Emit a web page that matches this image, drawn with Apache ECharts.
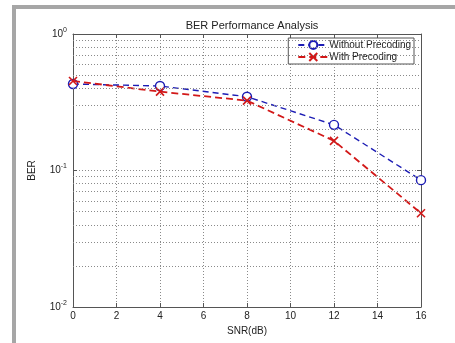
<!DOCTYPE html>
<html>
<head>
<meta charset="utf-8">
<script src="https://cdn.jsdelivr.net/npm/echarts@6/dist/echarts.min.js"></script>
<style>html,body{margin:0;padding:0;background:#fff}#c{width:455px;height:343px}</style>
</head>
<body>
<div id="c"></div>
<script>
var snr = [0, 4, 8, 12, 16];
var berWithout = [0.43, 0.416, 0.347, 0.216, 0.085];
var berWith = [0.453, 0.378, 0.325, 0.165, 0.0486];
var xTicks = [0, 2, 4, 6, 8, 10, 12, 14, 16];
var yMinorGrid = [0.02,0.03,0.04,0.05,0.06,0.07,0.08,0.09,0.2,0.3,0.4,0.5,0.6,0.7,0.8,0.9];
var yTickExp = {1: '0', 0.1: '-1', 0.01: '-2'};

var chart = echarts.init(document.getElementById('c'), null, {renderer: 'canvas'});
var font = 'Liberation Sans, Arial, sans-serif';
var axisColor = '#555';
var gridLine = {show: true, lineStyle: {type: [1, 2], color: '#8a8a8a', width: 1}};

function pair(arrX, arrY) { return arrX.map(function (x, i) { return [x, arrY[i]]; }); }

var xSym = 'path://M0,0L10,10M10,0L0,10';

chart.setOption({
  animation: false,
  backgroundColor: '#fff',
  textStyle: {fontFamily: font},
  graphic: [
    {type: 'rect', shape: {x: 12, y: 5, width: 443, height: 4}, style: {fill: '#a6a6a6'}, silent: true},
    {type: 'rect', shape: {x: 12, y: 5, width: 4, height: 338}, style: {fill: '#a6a6a6'}, silent: true}
  ],
  title: {
    text: 'BER Performance Analysis',
    left: 247, top: 15, textAlign: 'center',
    textStyle: {fontSize: 11, fontWeight: 'normal', color: '#222', fontFamily: font}
  },
  legend: {
    right: 41, top: 38,
    orient: 'vertical',
    backgroundColor: '#fff',
    borderColor: '#555', borderWidth: 1,
    padding: [2, 3, 2, 9],
    itemGap: 2,
    itemWidth: 30, itemHeight: 10,
    textStyle: {fontSize: 10, color: '#222', fontFamily: font, padding: [0, 0, 0, -4]},
    data: ['Without Precoding', 'With Precoding']
  },
  grid: {left: 73, right: 34, top: 34, bottom: 36},
  xAxis: [{
    type: 'value', min: 0, max: 16, interval: 2,
    name: 'SNR(dB)', nameLocation: 'middle', nameGap: 18,
    nameTextStyle: {fontSize: 10, color: '#222'},
    axisLine: {show: true, onZero: false, lineStyle: {color: axisColor}},
    axisTick: {show: true, inside: true, length: 4, lineStyle: {color: axisColor}},
    axisLabel: {fontSize: 10, color: '#222', margin: 4,
      customValues: xTicks},
    splitLine: gridLine
  }, {
    type: 'value', min: 0, max: 16, interval: 2, position: 'top',
    axisLine: {show: true, onZero: false, lineStyle: {color: axisColor}},
    axisTick: {show: true, inside: true, length: 4, lineStyle: {color: axisColor}},
    axisLabel: {show: false}, splitLine: {show: false}
  }],
  yAxis: [{
    type: 'log', min: 0.01, max: 1, logBase: 10,
    name: 'BER', nameLocation: 'middle', nameGap: 36,
    nameTextStyle: {fontSize: 10, color: '#222'},
    axisLine: {show: true, onZero: false, lineStyle: {color: axisColor}},
    axisTick: {show: true, inside: true, length: 4, lineStyle: {color: axisColor}},
    axisLabel: {
      margin: 6, color: '#222',
      formatter: function (v) {
        var k = Math.abs(v - 1) < 1e-9 ? 1 : (Math.abs(v - 0.1) < 1e-9 ? 0.1 : 0.01);
        return '{b|10}{s|' + yTickExp[k] + '}';
      },
      rich: {
        b: {fontSize: 10, color: '#222', fontFamily: font},
        s: {fontSize: 7, color: '#222', fontFamily: font, padding: [0, 0, 8, 0]}
      }
    },
    splitLine: gridLine
  }, {
    type: 'log', min: 0.01, max: 1, logBase: 10, position: 'right',
    axisLine: {show: true, onZero: false, lineStyle: {color: axisColor}},
    axisTick: {show: true, inside: true, length: 4, lineStyle: {color: axisColor}},
    axisLabel: {show: false}, splitLine: {show: false}
  }],
  series: [{
    name: 'Without Precoding',
    type: 'line',
    data: pair(snr, berWithout),
    symbol: 'circle', symbolSize: 9,
    showAllSymbol: true,
    lineStyle: {color: '#1c1cb4', width: 1.4, type: [6, 4]},
    itemStyle: {color: '#fff', borderColor: '#1c1cb4', borderWidth: 1.4},
    z: 3,
    markLine: {
      silent: true, symbol: ['none', 'none'], label: {show: false},
      lineStyle: {type: [1, 2], color: '#8a8a8a', width: 1},
      emphasis: {disabled: true},
      animation: false,
      data: yMinorGrid.map(function (v) { return {yAxis: v}; })
    }
  }, {
    name: 'With Precoding',
    type: 'line',
    data: pair(snr, berWith),
    symbol: xSym, symbolSize: 8,
    showAllSymbol: true,
    lineStyle: {color: '#d21818', width: 1.8, type: [7, 4]},
    itemStyle: {color: '#d21818', borderColor: '#d21818', borderWidth: 1.6},
    z: 4
  }]
});
</script>
</body>
</html>
